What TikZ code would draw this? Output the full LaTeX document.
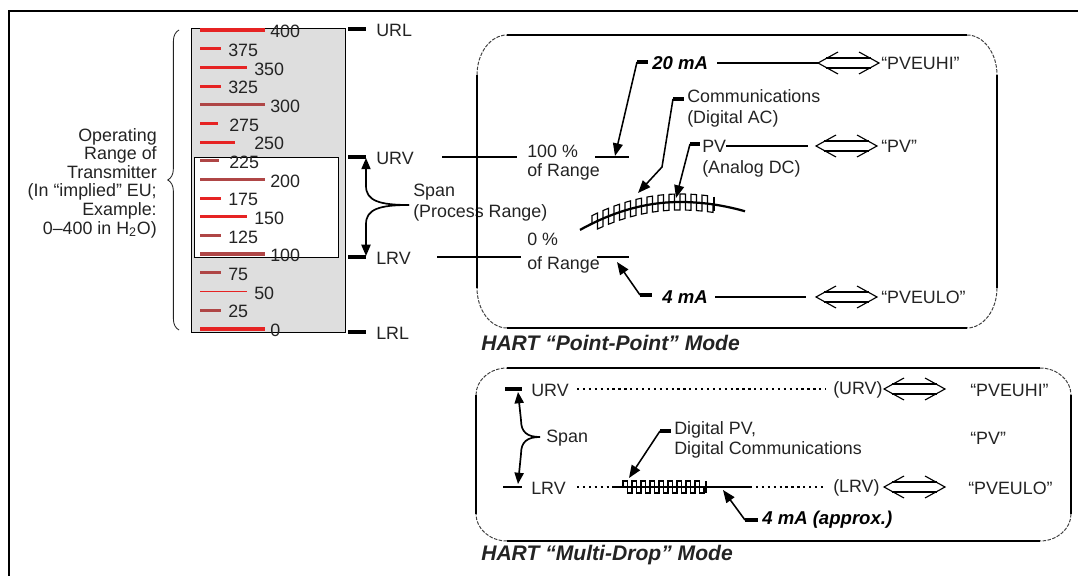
\documentclass[tikz,border=0pt]{standalone}
\usepackage{fontspec}
\setmainfont{Liberation Sans}
\usetikzlibrary{arrows.meta,decorations.pathreplacing}

\definecolor{scalered}{RGB}{230,35,35}
\definecolor{scaledark}{RGB}{175,70,70}
\definecolor{scalegray}{RGB}{222,222,222}
\definecolor{ink}{RGB}{35,35,35}

\tikzset{
  lbl/.style={inner sep=0pt, text=ink},
  mAlbl/.style={inner sep=0pt, text=black, font=\fontsize{13.2}{15}\selectfont\bfseries\itshape},
  modelbl/.style={inner sep=0pt, text=ink, font=\fontsize{15}{17}\selectfont\bfseries\itshape},
  boxedge/.style={line width=1.7pt},
  boxcorner/.style={line width=0.7pt, black!75, dash pattern=on 2.5pt off 1pt},
  stub/.style={line width=2.6pt},
  rangeline/.style={line width=1.7pt},
  thinline/.style={line width=0.8pt},
  dotline/.style={line width=2.1pt, dash pattern=on 1.6pt off 2.6pt},
  leader/.style={line width=1.1pt, -{Triangle[length=9pt,width=7pt]}},
  spanarrow/.style={line width=1.2pt, -{Triangle[length=8pt,width=6.5pt]}},
  wave/.style={line width=0.8pt},
  dblarrow/.pic={
    \draw[line width=0.8pt] (20,-11) -- (0,0) -- (20,11) (41,-11) -- (61,0) -- (41,11);
    \draw[line width=1.9pt] (8,-5) -- (53,-5) (8,5) -- (53,5);
  }
}

% left, top, right, bottom, corner x, corner y
\newcommand{\modebox}[6]{%
  \draw[boxedge] (#1,{#2+#6}) -- (#1,{#4-#6}) ({#1+#5},#2) -- ({#3-#5},#2)
    (#3,{#2+#6}) -- (#3,{#4-#6}) ({#1+#5},#4) -- ({#3-#5},#4);
  \draw[boxcorner] (#1,{#2+#6}) .. controls (#1,{#2+0.45*#6}) and ({#1+0.45*#5},#2) .. ({#1+#5},#2)
    ({#3-#5},#2) .. controls ({#3-0.45*#5},#2) and (#3,{#2+0.45*#6}) .. (#3,{#2+#6})
    (#3,{#4-#6}) .. controls (#3,{#4-0.45*#6}) and ({#3-0.45*#5},#4) .. ({#3-#5},#4)
    ({#1+#5},#4) .. controls ({#1+0.45*#5},#4) and (#1,{#4-0.45*#6}) .. (#1,{#4-#6});
}

\begin{document}
\begin{tikzpicture}[x=0.025cm, y=-0.025cm, font=\fontsize{12.7}{14.5}\selectfont,
  declare function={wy(\x)=202+(0.0022+0.0006*(\x<680))*(\x-680)*(\x-680);}]
  \useasboundingbox (0,0) rectangle (1078,576);
  \draw[line width=1.8pt] (1078,11) -- (9,11) -- (9,576);

  % scale of the transmitter
  \fill[scalegray] (191,28) rectangle (345,332);
  \draw[line width=0.6pt] (191,28) rectangle (345,332);
  \draw[line width=0.6pt, fill=white] (194,157) rectangle (338,257);
  \foreach \v/\xe/\xl/\c/\w in {400/265/270/scalered/2.2pt, 375/221/228/scalered/2.2pt,
      350/247/254/scalered/2.2pt, 325/221/228/scalered/2.2pt, 300/265/270/scaledark/2.2pt,
      275/218/229/scalered/2.2pt, 250/235/254/scalered/2.2pt, 225/219/229/scaledark/2.2pt,
      200/265/270/scaledark/2.2pt, 175/221/228/scalered/2.2pt, 150/247/254/scalered/2.2pt,
      125/221/228/scaledark/2.2pt, 100/265/270/scaledark/2.6pt, 75/221/228/scaledark/2.2pt,
      50/247/254/scalered/0.8pt, 25/221/228/scaledark/2.2pt, 0/265/270/scalered/2.2pt}{
    \draw[\c, line width=\w] (200,{30+(400-\v)*0.7475}) -- (\xe,{30+(400-\v)*0.7475});
    \node[lbl, anchor=west] (val\v) at (\xl,{31.5+(400-\v)*0.7475}) {\v};
  }
  \draw[line width=0.6pt, ink, decorate, decoration={brace, amplitude=8pt}] (179,330) -- (179,30);
  \node[lbl, anchor=east, align=right, font=\fontsize{12.7}{13.2}\selectfont] (oprange) at (157,183)
    {Operating\\Range of\\Transmitter\\(In “implied” EU;\\Example:\\0--400 in H\textsubscript{2}O)};
  \foreach \nm/\yy in {URL/29, URV/157, LRV/257, LRL/332}{
    \draw[stub] (348,\yy) -- (366,\yy);
    \node[lbl, anchor=west] (\nm) at (376,{\yy+1.5}) {\nm};
  }
  \coordinate (spanU) at (366,158);
  \coordinate (spanL) at (366,256);
  \coordinate (spanjoin) at (409,205);
  \node[lbl, anchor=west, align=left, font=\fontsize{12.7}{15}\selectfont] (span) at (413,203) {Span\\(Process Range)};
  \draw[spanarrow] (spanjoin) .. controls (380,205) and (366,201) .. (366,186) -- (spanU);
  \draw[spanarrow] (spanjoin) .. controls (380,205) and (366,209) .. (366,224) -- (spanL);

  % HART point-point mode
  \modebox{477}{35}{997}{328}{30}{40}
  \coordinate (urvA) at (442,157);
  \coordinate (urvB) at (517,157);
  \coordinate (lrvA) at (437,257);
  \coordinate (lrvB) at (521,257);
  \draw[rangeline] (urvA) -- (urvB);
  \draw[rangeline] (lrvA) -- (lrvB);
  \node[lbl, anchor=west, align=left, font=\fontsize{12.7}{13.5}\selectfont] (pct100) at (527,163) {100 \%\\of Range};
  \node[lbl, anchor=west, align=left, font=\fontsize{12.7}{13.5}\selectfont] (pct0) at (527,253) {0 \%\\[4pt]of Range};
  \coordinate (hi) at (595,157);
  \coordinate (lo) at (597,257);
  \draw[rangeline] (hi) -- ++(34,0);
  \draw[rangeline] (lo) -- ++(32,0);

  \node[mAlbl, anchor=west] (ma20) at (652,63) {20 mA};
  \coordinate (t20) at (637,62);
  \draw[stub] (t20) -- ++(11,0);
  \draw[leader] (t20) -- (615,156);
  \draw[rangeline] (717,63) -- (818,63);
  \pic at (818,63) {dblarrow};
  \node[lbl, anchor=west] (pvhi) at (881,63) {“PVEUHI”};

  \node[lbl, anchor=west, align=left, font=\fontsize{12.7}{15}\selectfont] (comm) at (687,108) {Communications\\(Digital AC)};
  \coordinate (tcom) at (673,99);
  \draw[stub] (tcom) -- ++(11,0);
  \draw[leader] (tcom) -- (662,167) -- (638,193);

  \node[lbl, anchor=west] (pv) at (702,146) {PV};
  \node[lbl, anchor=west] (analog) at (702,169) {(Analog DC)};
  \coordinate (tpv) at (690,144);
  \draw[stub] (tpv) -- ++(10,0);
  \draw[leader] (tpv) -- (676,198);
  \draw[thinline] (pv.east) -- (808,146);
  \pic at (816,146) {dblarrow};
  \node[lbl, anchor=west] (pvq) at (881,146) {“PV”};

  \draw[line width=1.6pt] plot[domain=580:745, samples=50] (\x,{wy(\x)});
  \draw[wave] (592,{wy(592)}) \foreach \s in {0,...,10}{
      -- ({592+11*\s},{wy(592+11*\s)-8}) -- ({597.5+11*\s},{wy(597.5+11*\s)-8})
      -- ({597.5+11*\s},{wy(597.5+11*\s)+8}) -- ({603+11*\s},{wy(603+11*\s)+8}) }
    -- (713,{wy(713)});
  \draw[line width=2pt] (714,{wy(714)-8}) -- (714,{wy(714)+6});

  \node[mAlbl, anchor=west] (ma4) at (662,297) {4 mA};
  \coordinate (t4) at (640,295);
  \draw[stub] (t4) -- ++(12,0);
  \draw[leader] (t4) -- (617,262);
  \draw[rangeline] (715,297) -- (806,297);
  \pic at (816,297) {dblarrow};
  \node[lbl, anchor=west] (pvlo) at (881,297) {“PVEULO”};
  \node[modelbl, anchor=west] (pp) at (481,343) {HART “Point-Point” Mode};

  % HART multi-drop mode
  \modebox{476}{368}{1071}{541}{31}{27}
  \coordinate (burv) at (505,389);
  \draw[stub] (burv) -- ++(17,0);
  \node[lbl, anchor=west] (bURV) at (531,390) {URV};
  \draw[dotline] (577,389) -- (826,389);
  \node[lbl, anchor=west] (burvq) at (833,390) {(URV)};
  \pic at (884,389) {dblarrow};
  \node[lbl, anchor=west] (bhi) at (970,390) {“PVEUHI”};

  \coordinate (bspanU) at (518,392);
  \coordinate (bspanL) at (518,484);
  \coordinate (bspanjoin) at (540,437);
  \node[lbl, anchor=west] (bspan) at (546,438) {Span};
  \draw[spanarrow] (bspanjoin) .. controls (527,437) and (521,432) .. (521,420) -- (bspanU);
  \draw[spanarrow] (bspanjoin) .. controls (527,437) and (521,442) .. (521,454) -- (bspanL);
  \node[lbl, anchor=west] (bpv) at (970,438) {“PV”};

  \coordinate (blrv) at (503,487);
  \draw[line width=0.8pt] (blrv) -- ++(19,0);
  \node[lbl, anchor=west] (bLRV) at (531,488) {LRV};
  \draw[dotline] (577,487) -- (615,487);
  \draw[rangeline] (615,487) -- (750,487);
  \draw[dotline] (750,487) -- (826,487);
  \node[lbl, anchor=west] (blrvq) at (833,488) {(LRV)};
  \pic at (884,487) {dblarrow};
  \node[lbl, anchor=west] (blo) at (968,488) {“PVEULO”};
  \draw[wave] (623,487) \foreach \s in {0,...,8}{
      -- ({623+9*\s},481) -- ({627.5+9*\s},481) -- ({627.5+9*\s},493) -- ({632+9*\s},493) }
    -- (704,487);
  \draw[line width=2pt] (706,481) -- (706,493);

  \node[lbl, anchor=west, align=left, font=\fontsize{12.7}{14}\selectfont] (dpv) at (674,440) {Digital PV,\\Digital Communications};
  \coordinate (tdpv) at (660,431);
  \draw[stub] (tdpv) -- ++(11,0);
  \draw[leader] (tdpv) -- (629,478);
  \node[mAlbl, anchor=west] (ma4b) at (762,520) {4 mA (approx.)};
  \coordinate (t4b) at (745,520);
  \draw[stub] (t4b) -- ++(13,0);
  \draw[leader] (t4b) -- (723,490);
  \node[modelbl, anchor=west] (md) at (481,555) {HART “Multi-Drop” Mode};
\end{tikzpicture}
\end{document}
